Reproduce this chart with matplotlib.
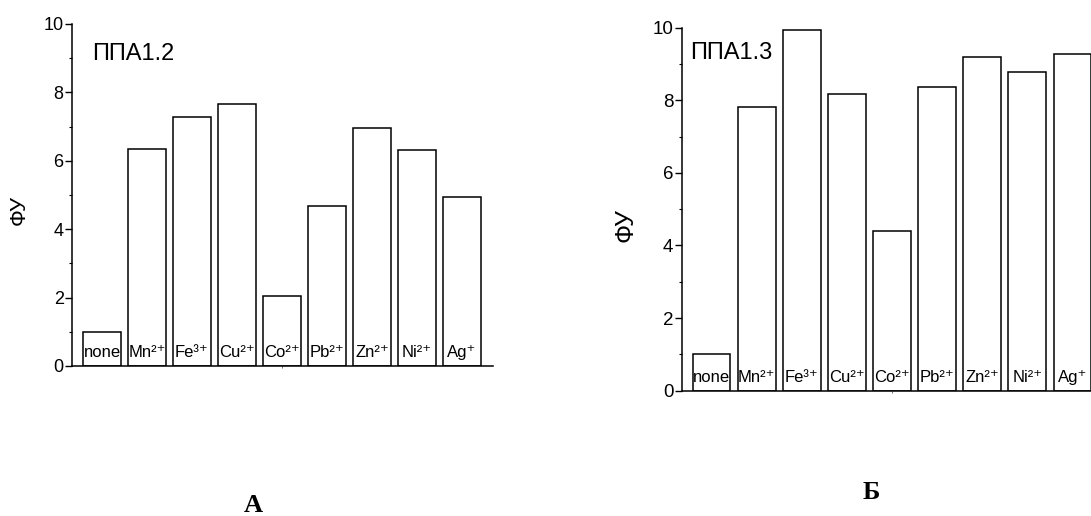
import matplotlib
matplotlib.use("Agg")
import matplotlib.pyplot as plt
from matplotlib.ticker import MultipleLocator

plt.rcParams['font.family'] = ['Liberation Sans', 'DejaVu Sans']

categories = ["none", "Mn²⁺", "Fe³⁺", "Cu²⁺", "Co²⁺",
              "Pb²⁺", "Zn²⁺", "Ni²⁺", "Ag⁺"]
values_a = [1.0, 6.34, 7.27, 7.67, 2.05, 4.69, 6.95, 6.31, 4.95]
values_b = [1.0, 7.81, 9.94, 8.16, 4.40, 8.37, 9.20, 8.77, 9.27]
titles = ["ППА1.2", "ППА1.3"]
panel_labels = ["А", "Б"]
ylabel = "ФУ"

W, H = 1091, 516
fig = plt.figure(figsize=(W / 100, H / 100), dpi=100)

def px_axes(x0, x1, ytop, ybot):
    return fig.add_axes([x0 / W, 1 - ybot / H, (x1 - x0) / W, (ybot - ytop) / H])

def draw(ax, vals, title, xlim, tick_fs, ylab_fs, ylab_xy, title_xy):
    x = list(range(len(vals)))
    ax.bar(x, vals, width=0.84, color='white', edgecolor='black', linewidth=1.1, zorder=2)
    ax.set_xlim(*xlim)
    ax.set_ylim(0, 10)
    for s in ['top', 'right']:
        ax.spines[s].set_visible(False)
    for s in ['left', 'bottom']:
        ax.spines[s].set_linewidth(1.1)
        ax.spines[s].set_zorder(3)
    ax.yaxis.set_major_locator(MultipleLocator(2))
    ax.yaxis.set_minor_locator(MultipleLocator(1))
    ax.tick_params(axis='y', which='major', direction='out', length=5, width=1, labelsize=tick_fs, pad=1)
    ax.tick_params(axis='y', which='minor', direction='out', length=2.5, width=0.8)
    ax.set_xticks([4])
    ax.set_xticklabels([])
    ax.tick_params(axis='x', which='major', direction='out', length=1.5, width=0.6, color='#555555')
    for xi, lab in zip(x, categories):
        ax.annotate(lab, xy=(xi, 0), xytext=(0, 6.5), textcoords='offset points',
                    ha='center', va='baseline', fontsize=12, zorder=4)
    fig.text(ylab_xy[0] / W, 1 - ylab_xy[1] / H, ylabel, rotation=90,
             ha='center', va='center', fontsize=ylab_fs)
    fig.text(title_xy[0] / W, 1 - title_xy[1] / H, title, ha='left', va='baseline', fontsize=17)

ax1 = px_axes(72, 493, 24, 366)
draw(ax1, values_a, titles[0], (-0.667, 8.69), 13, 16, (19, 210), (92, 60))

ax2 = px_axes(681.7, 1100, 27.7, 390.7)
draw(ax2, values_b, titles[1], (-0.66, 8.61), 13.5, 18, (626, 225), (690, 59))

fig.text(253 / W, 1 - 512 / H, panel_labels[0], ha='center', va='baseline',
         fontsize=19, fontweight='bold', family='Liberation Serif')
fig.text(871 / W, 1 - 499 / H, panel_labels[1], ha='center', va='baseline',
         fontsize=19, fontweight='bold', family='Liberation Serif')

fig.savefig("out.png", dpi=100)
